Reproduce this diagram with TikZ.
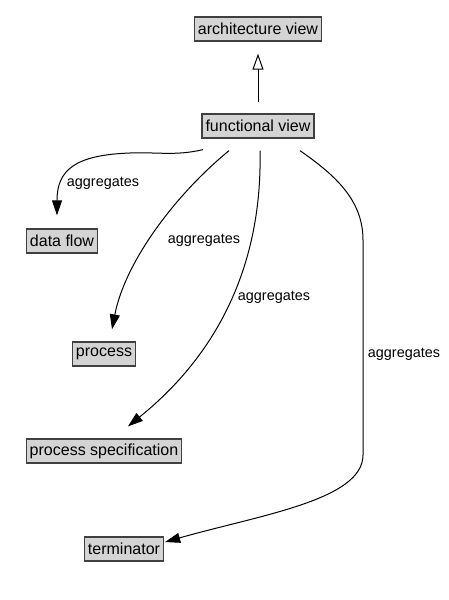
\documentclass[tikz,border=0pt]{standalone}
\usepackage{fontspec}
\setmainfont{Liberation Sans}
\usetikzlibrary{arrows.meta}
\begin{document}
\begin{tikzpicture}[x=1pt,y=-1pt,
  box/.style={draw=black!75,fill=black!17,line width=1.3pt,minimum height=24pt,inner xsep=3.5pt,inner ysep=0pt,font=\fontsize{16}{19}\selectfont},
  lbl/.style={font=\fontsize{14.4}{17}\selectfont,inner sep=0pt},
  agg/.style={line width=1pt,-{Triangle[length=15pt,width=10pt]}},
  gen/.style={line width=1pt,-{Triangle[open,length=16pt,width=11pt,fill=white]}}]
\useasboundingbox (0,0) rectangle (449,600);
\node[box] (arch) at (258,29) {architecture view};
\node[box] (func) at (258,126) {functional view};
\node[box] (dflow) at (62,241) {data flow};
\node[box] (proc) at (104,354) {process};
\node[box] (pspec) at (104,451) {process specification};
\node[box] (term) at (124,549) {terminator};

\draw[gen] ([yshift=11pt]func.north) -- ([yshift=-12pt]arch.south);

\draw[agg] ([xshift=-55pt,yshift=-11pt]func.south) .. controls (175,156) and (160,152) .. (130,153) .. controls (75,155) and (57,170) .. ([xshift=-5pt,yshift=13pt]dflow.north);
\node[lbl] (l1) at (103,183) {aggregates};

\draw[agg] ([xshift=-29pt,yshift=-12pt]func.south) .. controls (175,195) and (125,262) .. ([xshift=8pt,yshift=12pt]proc.north);
\node[lbl] (l2) at (204,240) {aggregates};

\draw[agg] ([xshift=2pt,yshift=-12pt]func.south) .. controls (262,240) and (235,340) .. ([xshift=24pt,yshift=12pt]pspec.north);
\node[lbl] (l3) at (274,297) {aggregates};

\draw[agg] ([xshift=42pt,yshift=-12pt]func.south) .. controls (335,175) and (363,200) .. (363,240) -- (363,455) .. controls (363,500) and (260,515) .. ([xshift=1pt,yshift=7pt]term.east);
\node[lbl] (l4) at (404,354) {aggregates};
\end{tikzpicture}
\end{document}
